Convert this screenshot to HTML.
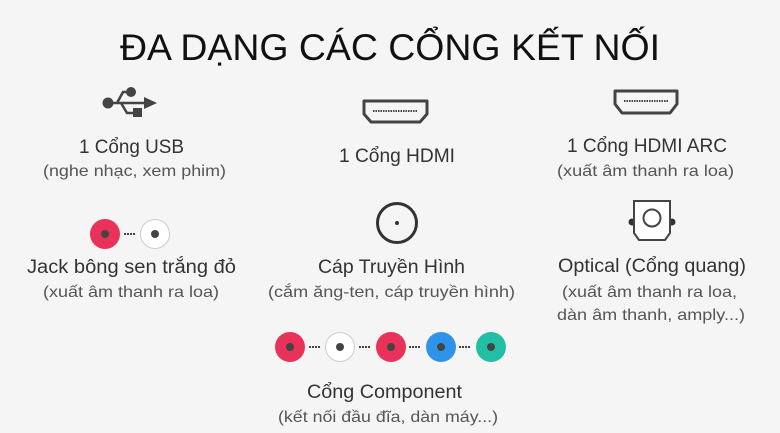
<!DOCTYPE html>
<html><head><meta charset="utf-8"><style>
html,body{margin:0;padding:0;background:#f5f5f5}
svg{display:block}
text{font-family:"Liberation Sans","DejaVu Sans",sans-serif}
.m{font-size:19px;fill:#333}
.s{font-size:16px;fill:#555}
</style></head><body>
<svg width="780" height="433" viewBox="0 0 780 433" xmlns="http://www.w3.org/2000/svg">
<rect width="780" height="433" fill="#f5f5f5"/>
<text x="120" y="60" font-size="37" fill="#111" textLength="540" lengthAdjust="spacingAndGlyphs">ĐA DẠNG CÁC CỔNG KẾT NỐI</text>

<!-- USB icon -->
<g fill="#444" stroke="#444">
<circle cx="108" cy="103" r="5.5" stroke="none"/>
<circle cx="131" cy="92" r="5" stroke="none"/>
<line x1="108" y1="103" x2="146" y2="103" stroke-width="2.5"/>
<polyline points="117,103 123,92 131,92" fill="none" stroke-width="2.5"/>
<polyline points="121,103 127,113 137,113" fill="none" stroke-width="2.5"/>
<rect x="133" y="108" width="9" height="9" stroke="none"/>
<polygon points="144,97 157,103 144,109" stroke="none"/>
</g>
<text class="m" x="79" y="153" textLength="105" lengthAdjust="spacingAndGlyphs">1 Cổng USB</text>
<text class="s" x="43" y="176" textLength="183" lengthAdjust="spacingAndGlyphs">(nghe nhạc, xem phim)</text>

<!-- HDMI -->
<g fill="none" stroke="#444" stroke-width="3">
<polygon points="364,101 427,101 427,114 420,122 371,122 364,114" stroke-linejoin="round"/>
<line x1="373" y1="111" x2="418" y2="111" stroke-width="2" stroke-dasharray="1.5 1"/>
</g>
<text class="m" x="339" y="162" textLength="116" lengthAdjust="spacingAndGlyphs">1 Cổng HDMI</text>

<!-- HDMI ARC -->
<g fill="none" stroke="#444" stroke-width="3">
<polygon points="615,91 677,91 677,104 670,113 622,113 615,104" stroke-linejoin="round"/>
<line x1="624" y1="101" x2="668" y2="101" stroke-width="2" stroke-dasharray="1.5 1"/>
</g>
<text class="m" x="567" y="152" textLength="160" lengthAdjust="spacingAndGlyphs">1 Cổng HDMI ARC</text>
<text class="s" x="557" y="176" textLength="177" lengthAdjust="spacingAndGlyphs">(xuất âm thanh ra loa)</text>

<!-- Jack -->
<circle cx="105" cy="234" r="15" fill="#e8325a"/>
<circle cx="105" cy="234" r="4" fill="#444"/>
<line x1="124" y1="234" x2="136" y2="234" stroke="#444" stroke-width="2" stroke-dasharray="2 1"/>
<circle cx="155" cy="234" r="14.5" fill="#fff" stroke="#ccc"/>
<circle cx="155" cy="234" r="4" fill="#444"/>
<text class="m" x="27" y="273" textLength="209" lengthAdjust="spacingAndGlyphs">Jack bông sen trắng đỏ</text>
<text class="s" x="43" y="297" textLength="176" lengthAdjust="spacingAndGlyphs">(xuất âm thanh ra loa)</text>

<!-- Coax -->
<circle cx="397" cy="223" r="19.5" fill="none" stroke="#333" stroke-width="3"/>
<circle cx="397" cy="223" r="2" fill="#333"/>
<text class="m" x="318" y="273" textLength="147" lengthAdjust="spacingAndGlyphs">Cáp Truyền Hình</text>
<text class="s" x="268" y="297" textLength="247" lengthAdjust="spacingAndGlyphs">(cắm ăng-ten, cáp truyền hình)</text>

<!-- Optical -->
<circle cx="632" cy="222" r="3.5" fill="#333"/>
<circle cx="672" cy="222" r="3.5" fill="#333"/>
<polygon points="634,201 670,201 670,233 665,240 639,240 634,233" fill="#fff" stroke="#444" stroke-width="2"/>
<circle cx="652" cy="218" r="8.5" fill="none" stroke="#444" stroke-width="2"/>
<text class="m" x="558" y="272" textLength="188" lengthAdjust="spacingAndGlyphs">Optical (Cổng quang)</text>
<text class="s" x="562" y="297" textLength="175" lengthAdjust="spacingAndGlyphs">(xuất âm thanh ra loa,</text>
<text class="s" x="557" y="320" textLength="188" lengthAdjust="spacingAndGlyphs">dàn âm thanh, amply...)</text>

<!-- Component -->
<g>
<circle cx="290" cy="347" r="15" fill="#e8325a"/>
<circle cx="340" cy="347" r="14.5" fill="#fff" stroke="#ccc"/>
<circle cx="391" cy="347" r="15" fill="#e8325a"/>
<circle cx="441" cy="347" r="15" fill="#2f93ea"/>
<circle cx="491" cy="347" r="15" fill="#23bea6"/>
<g fill="#444">
<circle cx="290" cy="347" r="4"/><circle cx="340" cy="347" r="4"/><circle cx="391" cy="347" r="4"/><circle cx="441" cy="347" r="4"/><circle cx="491" cy="347" r="4"/>
</g>
<g stroke="#444" stroke-width="2" stroke-dasharray="2 1">
<line x1="309" y1="347" x2="321" y2="347"/>
<line x1="359" y1="347" x2="371" y2="347"/>
<line x1="409" y1="347" x2="421" y2="347"/>
<line x1="459" y1="347" x2="471" y2="347"/>
</g>
</g>
<text class="m" x="307" y="398" textLength="155" lengthAdjust="spacingAndGlyphs">Cổng Component</text>
<text class="s" x="278" y="422" textLength="220" lengthAdjust="spacingAndGlyphs">(kết nối đầu đĩa, dàn máy...)</text>
</svg>
</body></html>
